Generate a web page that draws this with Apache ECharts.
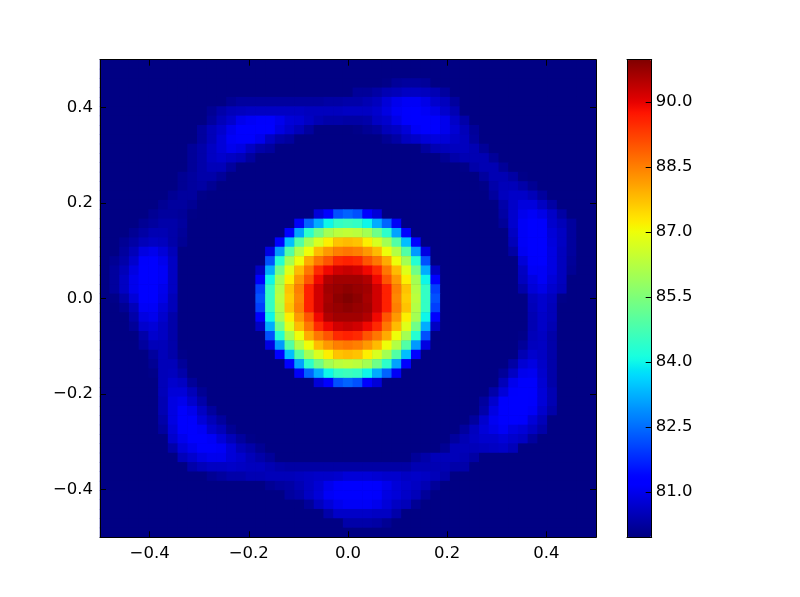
<!DOCTYPE html>
<html>
<head>
<meta charset="utf-8">
<style>html,body{margin:0;padding:0;background:#fff}#c{width:800px;height:597px}</style>
<script src="https://cdn.jsdelivr.net/npm/echarts@6/dist/echarts.min.js"></script>
</head>
<body>
<div id="c"></div>
<script>
const gridSize = 51;
const baseline = 80;
const colorMin = 79.96;
const colorMax = 90.97;
const plotTicks = [-0.4, -0.2, 0, 0.2, 0.4];
const barTicks = [81, 82.5, 84, 85.5, 87, 88.5, 90];

// Faint ring: [row from top, first column, excess above baseline per cell]
const ring = [
[2,29,[.05,.2,.25,.25,.2]],
[3,26,[.2,.2,.3,.45,.5,.6,.6,.55,.45,.25]],
[4,13,[.15,.25,.25,.25,.25,.25,.25,.25,.25,.25,.3,.3,.35,.35,.45,.55,.8,1,1.1,1.1,.95,.7,.55,.25]],
[5,11,[.15,.35,.5,.55,.6,.6,.6,.6,.6,.6,.55,.55,.55,.55,.6,.6,.6,.7,.9,1.1,1.2,1.25,1.1,.95,.7,.45]],
[6,11,[.25,.5,.7,1,1.1,1.15,1.15,1,.8,.75,.6,.45,.35,.35,.3,.3,.35,.6,.7,.95,1.15,1.25,1.25,1.15,1,.65,.35]],
[7,10,[.25,.5,.7,1,1.25,1.25,1.25,1.25,.9,.7,.5,.25]],[7,26,[.05,.15,.25,.5,.6,.8,1.1,1.25,1.2,1,.75,.5,.2]],
[8,10,[.25,.5,.8,1.1,1.15,1.15,1,.6,.35,.25]],[8,29,[.15,.3,.55,.65,.8,.85,.8,.65,.55,.25]],
[9,9,[.2,.35,.6,.8,1,.9,.6,.35,.25]],[9,33,[.25,.45,.5,.55,.55,.45,.2]],
[10,9,[.2,.35,.6,.7,.6,.5,.25]],[10,35,[.15,.35,.45,.45,.45,.2]],
[11,9,[.2,.35,.5,.5,.25]],[11,37,[.05,.35,.45,.45,.2]],
[12,8,[.15,.25,.35,.35,.2]],[12,39,[.25,.45,.45,.3,.05]],
[13,8,[.15,.25,.3,.15]],[13,39,[.05,.35,.5,.5,.35,.15]],
[14,7,[.15,.25,.25,.05]],[14,40,[.25,.55,.65,.65,.5,.25]],
[15,6,[.15,.25,.25,.15]],[15,41,[.35,.65,.85,.85,.6,.3]],
[16,5,[.15,.25,.25,.2,.03]],[16,41,[.3,.7,1,1.1,.95,.65,.3]],
[17,4,[.15,.25,.35,.35,.25]],[17,41,[.2,.7,1.1,1.25,1.15,.7,.5,.25]],
[18,3,[.15,.3,.45,.45,.35,.2]],[18,42,[.6,1.1,1.25,1.2,.8,.6,.25]],
[19,2,[.15,.3,.5,.6,.55,.35,.15]],[19,42,[.5,1.1,1.25,1.25,.85,.6,.25]],
[20,2,[.25,.5,.9,1,.8,.5]],[20,42,[.3,1.05,1.25,1.25,.9,.55,.25]],
[21,1,[.15,.35,.7,1.15,1.25,1,.6]],[21,43,[.8,1.15,1.25,.9,.55,.2]],
[22,1,[.25,.5,.9,1.25,1.25,1.1,.6]],[22,43,[.6,1.1,1.1,.9,.55,.15]],
[23,1,[.25,.6,1,1.25,1.25,1.1,.6]],[23,43,[.55,.9,1.1,.8,.55]],
[24,1,[.25,.6,1,1.25,1.25,1,.6]],[24,43,[.35,.8,.95,.7,.5]],
[25,1,[.05,.35,.8,1.25,1.25,.95,.5]],[25,44,[.55,.7,.55,.05]],
[26,2,[.15,.5,1.1,1.1,.8,.5]],[26,44,[.5,.7,.5]],
[27,3,[.35,.9,1,.7,.35]],[27,44,[.45,.65,.5]],
[28,3,[.2,.7,.8,.6,.35]],[28,44,[.45,.65,.45]],
[29,4,[.35,.7,.6,.35]],[29,43,[.05,.5,.6,.35]],
[30,4,[.25,.5,.5,.35]],[30,43,[.2,.55,.6,.35]],
[31,5,[.25,.5,.35,.05]],[31,43,[.45,.7,.6,.35]],
[32,5,[.15,.5,.5,.2]],[32,42,[.3,.75,.9,.65,.35]],
[33,5,[.05,.5,.55,.35]],[33,41,[.2,.6,1,1.05,.7,.35]],
[34,6,[.5,.7,.6,.2]],[34,41,[.5,1,1.15,1.15,.75,.35]],
[35,6,[.5,.8,.8,.5,.15]],[35,40,[.35,.8,1.15,1.25,1.2,.8,.45]],
[36,6,[.45,.9,1,.7,.35]],[36,39,[.25,.7,1.15,1.25,1.25,1.15,.8,.45]],
[37,6,[.45,.9,1.15,1,.6,.25]],[37,39,[.35,.9,1.2,1.25,1.25,1.1,.7,.35]],
[38,6,[.35,.9,1.2,1.15,.8,.5,.25]],[38,38,[.25,.7,1.05,1.2,1.25,1.15,.8,.5]],
[39,6,[.25,.8,1.15,1.25,1.1,.7,.5,.15]],[39,37,[.25,.55,.8,.95,1.1,.9,.8,.6,.35]],
[40,7,[.7,1,1.25,1.25,1.1,.8,.5,.25,.05]],[40,36,[.25,.45,.6,.7,.7,.8,.7,.6,.25]],
[41,7,[.35,.8,1,1.15,1.15,1.1,.8,.5,.35,.15]],[41,35,[.15,.5,.5,.5,.55,.6,.65,.5]],
[42,8,[.5,.7,.9,1,1,.8,.7,.5,.35,.2]],[42,32,[.2,.35,.5,.5,.5,.45,.3]],
[43,9,[.35,.5,.6,.6,.65,.6,.55,.55,.45,.35,.3,.3,.3,.3,.3,.3,.3,.3,.3,.3,.3,.3,.3,.45,.45,.45,.45,.35,.35]],
[44,11,[.15,.25,.35,.35,.45,.45,.5,.5,.5,.55,.6,.65,.65,.7,.8,.8,.8,.75,.7,.7,.6,.65,.6,.5,.35]],
[45,17,[.15,.25,.3,.45,.6,.75,1,1.15,1.25,1.25,1.25,1.2,1,.8,.7,.6,.45,.2]],
[46,19,[.25,.35,.6,.8,1.1,1.25,1.25,1.25,1.25,1.15,.9,.8,.65,.5,.2]],
[47,21,[.2,.55,.8,1,1.1,1.1,1.1,1,.8,.6,.5,.15]],
[48,23,[.35,.65,.65,.65,.65,.6,.6,.35]],
[49,25,[.35,.35,.35,.3,.15]]
];

// Central disc: rows 16..34, columns 16..34
const discFirst = 16;
const disc = [
[80,80,80,80,80,80,80.8,81.3,82.2,82.4,82.2,81.3,80.8,80,80,80,80,80,80],
[80,80,80,80,81.1,82.4,83.2,84,84.5,84.6,84.5,84,83.2,82.4,81.1,80,80,80,80],
[80,80,80,81.3,83.1,84.4,85.3,86,86.3,86.4,86.3,86,85.3,84.4,83.1,81.3,80,80,80],
[80,80,81.3,83.4,84.9,86,86.7,87.2,87.7,87.8,87.7,87.2,86.7,86,84.9,83.4,81.3,80,80],
[80,80.9,83,84.9,86.2,87,87.8,88.2,88.5,88.6,88.5,88.2,87.8,87,86.2,84.9,83,80.9,80],
[80,82.2,84.3,86,87,88,88.6,89,89.5,89.6,89.5,89,88.6,88,87,86,84.3,82.2,80],
[80.6,83.2,85.3,86.8,87.8,88.6,89.5,89.9,90.2,90.3,90.2,89.9,89.5,88.6,87.8,86.8,85.3,83.2,80.6],
[81.3,84,86,87.2,88.2,89,89.9,90.5,90.65,90.65,90.65,90.5,89.9,89,88.2,87.2,86,84,81.3],
[82,84.5,86.2,87.7,88.5,89.6,90.2,90.65,90.75,90.85,90.75,90.65,90.2,89.6,88.5,87.7,86.2,84.5,82],
[82.2,84.5,86.3,87.6,88.4,89.6,90.2,90.6,90.85,90.97,90.85,90.6,90.2,89.6,88.4,87.6,86.3,84.5,82.2],
[82,84.5,86.2,87.7,88.5,89.6,90.2,90.65,90.75,90.85,90.75,90.65,90.2,89.6,88.5,87.7,86.2,84.5,82],
[81.3,84,86,87.2,88.2,89,89.9,90.5,90.65,90.65,90.65,90.5,89.9,89,88.2,87.2,86,84,81.3],
[80.6,83.2,85.3,86.8,87.8,88.6,89.5,89.9,90.2,90.3,90.2,89.9,89.5,88.6,87.8,86.8,85.3,83.2,80.6],
[80,82.2,84.3,86,87,88,88.6,89,89.5,89.6,89.5,89,88.6,88,87,86,84.3,82.2,80],
[80,80.9,83,84.9,86.2,87,87.8,88.2,88.5,88.6,88.5,88.2,87.8,87,86.2,84.9,83,80.9,80],
[80,80,81.3,83.4,84.9,86,86.7,87.2,87.7,87.8,87.7,87.2,86.7,86,84.9,83.4,81.3,80,80],
[80,80,80,81.3,83.1,84.4,85.3,86,86.3,86.4,86.3,86,85.3,84.4,83.1,81.3,80,80,80],
[80,80,80,80,81.1,82.4,83.2,84,84.5,84.6,84.5,84,83.2,82.4,81.1,80,80,80,80],
[80,80,80,80,80,80,80.8,81.3,82.2,82.4,82.2,81.3,80.8,80,80,80,80,80,80]
];

// Assemble the cells
const cells = [];
for (let r = 0; r < gridSize; r++) cells.push(new Array(gridSize).fill(baseline));
ring.forEach(([r, c, vals]) => vals.forEach((v, k) => { cells[r][c + k] = baseline + v; }));
disc.forEach((vals, r) => vals.forEach((v, c) => { if (v > baseline) cells[discFirst + r][discFirst + c] = v; }));
const heatData = [];
for (let r = 0; r < gridSize; r++) for (let c = 0; c < gridSize; c++) heatData.push([c, gridSize - 1 - r, cells[r][c]]);
const cats = cells.map((_, i) => String(i));

// matplotlib "jet" colour map
function piece(pts, t) {
  for (let i = 1; i < pts.length; i++) if (t <= pts[i][0]) {
    const a = pts[i - 1], b = pts[i];
    return a[1] + (b[1] - a[1]) * (t - a[0]) / (b[0] - a[0]);
  }
  return pts[pts.length - 1][1];
}
const jetR = [[0,0],[.35,0],[.66,1],[.89,1],[1,.5]];
const jetG = [[0,0],[.125,0],[.375,1],[.64,1],[.91,0],[1,0]];
const jetB = [[0,.5],[.11,1],[.34,1],[.65,0],[1,0]];
const jet = [];
for (let i = 0; i <= 128; i++) {
  const t = i / 128;
  jet.push(`rgb(${Math.round(255*piece(jetR,t))},${Math.round(255*piece(jetG,t))},${Math.round(255*piece(jetB,t))})`);
}

const font = {fontFamily: 'DejaVu Sans', fontSize: 16.5, color: '#000'};
const black = {lineStyle: {color: '#000', width: 1}};
const fmt = v => Number(v).toFixed(1).replace('-', '\u2212');
const rect = {left: 100, top: 59.7, width: 496, height: 477.6};

function frameAxis(pos, idx, labelled, extra) {
  return Object.assign({
    type: 'value', gridIndex: idx, position: pos, min: -0.5, max: 0.5, z: 5,
    splitLine: {show: false},
    axisLine: {show: true, onZero: false, ...black},
    axisTick: {show: true, inside: true, length: 6, customValues: plotTicks, ...black},
    axisLabel: labelled ? {show: true, customValues: plotTicks, formatter: fmt, margin: 8, ...font} : {show: false}
  }, extra);
}

const chart = echarts.init(document.getElementById('c'), null, {width: 800, height: 597, renderer: 'canvas'});
chart.setOption({
  animation: false,
  backgroundColor: '#fff',
  grid: [
    {...rect, show: true, backgroundColor: jet[0], borderWidth: 0},
    {...rect},
    {left: 627, top: 59.7, width: 24.7, height: 477.6}
  ],
  xAxis: [
    {type: 'category', gridIndex: 0, data: cats, show: false},
    frameAxis('bottom', 1, true),
    frameAxis('top', 1, false),
    {type: 'value', gridIndex: 2, position: 'bottom', min: 0, max: 1, z: 5, splitLine: {show: false},
      axisLine: {show: true, onZero: false, ...black}, axisTick: {show: false}, axisLabel: {show: false}},
    {type: 'value', gridIndex: 2, position: 'top', min: 0, max: 1, z: 5, splitLine: {show: false},
      axisLine: {show: true, onZero: false, ...black}, axisTick: {show: false}, axisLabel: {show: false}}
  ],
  yAxis: [
    {type: 'category', gridIndex: 0, data: cats, show: false},
    frameAxis('left', 1, true, {axisLabel: {show: true, customValues: plotTicks, formatter: fmt, margin: 7, ...font}}),
    frameAxis('right', 1, false),
    {type: 'value', gridIndex: 2, position: 'left', min: colorMin, max: colorMax, z: 5, splitLine: {show: false},
      axisLine: {show: true, onZero: false, ...black}, axisTick: {show: false}, axisLabel: {show: false}},
    {type: 'value', gridIndex: 2, position: 'right', min: colorMin, max: colorMax, z: 5, splitLine: {show: false},
      axisLine: {show: true, onZero: false, ...black},
      axisTick: {show: true, inside: true, length: 6, customValues: barTicks, ...black},
      axisLabel: {show: true, customValues: barTicks, formatter: v => Number(v).toFixed(1), margin: 4, ...font}}
  ],
  visualMap: {
    type: 'continuous', min: colorMin, max: colorMax, seriesIndex: 0,
    left: 627, top: 59.7, itemWidth: 24.7, itemHeight: 477.6, padding: 0,
    calculable: false, realtime: false, hoverLink: false, text: null, showLabel: false,
    inRange: {color: jet}, textStyle: {color: 'transparent', fontSize: 1}, z: 2
  },
  series: [{
    type: 'heatmap', xAxisIndex: 0, yAxisIndex: 0, data: heatData, z: 1,
    progressive: 0, silent: true, itemStyle: {borderWidth: 0}, emphasis: {disabled: true}
  }]
});
</script>
</body>
</html>
